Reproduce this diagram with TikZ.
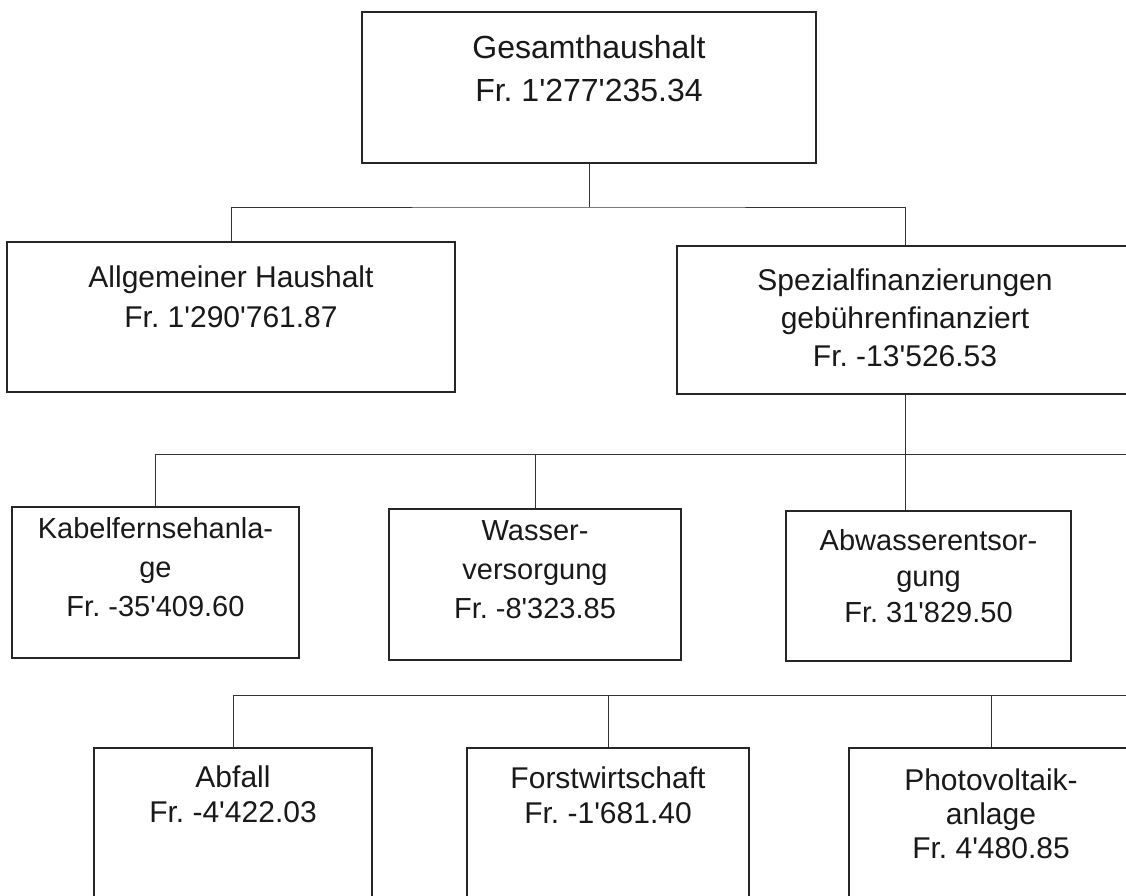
\documentclass[tikz,border=0pt]{standalone}
\usepackage{fontspec}
\setmainfont{Liberation Sans}[Ligatures=TeXOff]
\usepackage{tikz}
\usetikzlibrary{positioning}
\frenchspacing

\tikzset{
  box/.style={draw=black!85, line width=2.5pt, inner sep=0pt},
  lbl/.style={anchor=north, inner sep=0pt, align=center, text=black!90},
  link/.style={draw=black!80, line width=0.9pt},
}

\begin{document}
\begin{tikzpicture}[x=1pt, y=-1pt]
    \useasboundingbox[fill=white] (0,0) rectangle (1126,895);
    \clip (0,0) rectangle (1126,895);
        % level 0
        \node[box, minimum width=454, minimum height=151] (0) at (589,87.5) {};
        \node[lbl, font={\fontsize{32}{43}\selectfont}] (0t) at (589,35) {Gesamthaushalt\\Fr. 1'277'235.34};
        % level 1
        \node[box, minimum width=448, minimum height=150] (11) at (231,317) {};
        \node[box, minimum width=456, minimum height=148] (12) at (905,320) {};
        \node[lbl, font={\fontsize{30}{40}\selectfont}] (11t) at (231,266) {Allgemeiner Haushalt\\Fr. 1'290'761.87};
        \node[lbl, font={\fontsize{30}{38}\selectfont}] (12t) at (905,269) {Spezialfinanzierungen\\geb\"uhrenfinanziert\\Fr. -13'526.53};
        % level 2
        \node[box, minimum width=287, minimum height=151] (21) at (155.5,582.5) {};
        \node[box, minimum width=292, minimum height=151] (22) at (535,584.5) {};
        \node[box, minimum width=285, minimum height=150] (23) at (928.5,586) {};
        \node[lbl, font={\fontsize{29}{39}\selectfont}] (21t) at (155.5,517) {Kabelfernsehanla-\\ge\\Fr. -35'409.60};
        \node[lbl, font={\fontsize{29}{39}\selectfont}] (22t) at (535,520) {Wasser-\\versorgung\\Fr. -8'323.85};
        \node[lbl, font={\fontsize{29}{36}\selectfont}] (23t) at (928.5,529) {Abwasserentsor-\\gung\\Fr. 31'829.50};
        % level 3
        \node[box, minimum width=278, minimum height=182] (41) at (233,839) {};
        \node[box, minimum width=282, minimum height=182] (42) at (608,839) {};
        \node[box, minimum width=284, minimum height=182] (43) at (991,839) {};
        \node[lbl, font={\fontsize{30}{35}\selectfont}] (41t) at (233,766) {Abfall\\Fr. -4'422.03};
        \node[lbl, font={\fontsize{30}{35}\selectfont}] (42t) at (608,767) {Forstwirtschaft\\Fr. -1'681.40};
        \node[lbl, font={\fontsize{30}{34}\selectfont}] (43t) at (991,769) {Photovoltaik-\\anlage\\Fr. 4'480.85};
        % connectors
        \coordinate (j1) at (589,207);
        \coordinate (j2) at (1140,454);
        \coordinate (j3) at (1140,695);
        \draw[link] (0.south) -- (j1);
        \draw[link] (11.north) |- (j1) -| (12.north);
        \draw[link] (12.south) -- (12.south |- 23.north);
        \draw[link] (21.north) |- (j2);
        \draw[link] (22.north) -- (22.north |- j2);
        \draw[link] (41.north) |- (j3);
        \draw[link] (42.north) -- (42.north |- j3);
        \draw[link] (43.north) -- (43.north |- j3);
\end{tikzpicture}
\end{document}
